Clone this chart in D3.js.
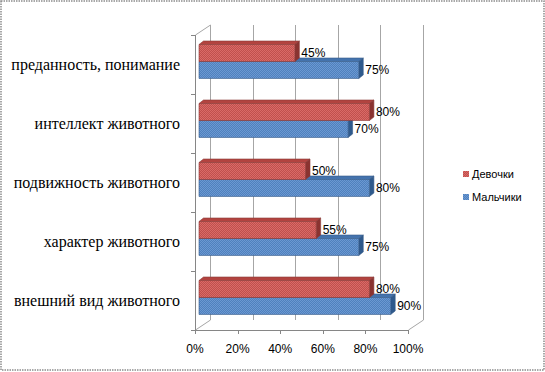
<!DOCTYPE html>
<html>
<head>
<meta charset="utf-8">
<script src="https://cdn.jsdelivr.net/npm/d3@7"></script>
<style>
  body { margin: 0; background: #fff; }
  svg { display: block; }
</style>
</head>
<body>
<svg id="chart" width="545" height="372"></svg>
<script>
const categories = ['преданность, понимание', 'интеллект животного', 'подвижность животного', 'характер животного', 'внешний вид животного']
const girls = [45, 80, 50, 55, 80]
const boys = [75, 70, 80, 75, 90]
const seriesNames = ['Девочки', 'Мальчики']
const xTicks = [0, 20, 40, 60, 80, 100]

const svg = d3.select('#chart')
const depth = { dx: 15, dy: -10 }
const front = { left: 195, right: 408, top: 35, bottom: 330 }
const sans = 'Liberation Sans'
const serif = 'Liberation Serif'

const xScale = d3.scaleLinear().domain([0, 100]).range([front.left, front.right])
const yScale = d3.scaleBand().domain(categories).range([front.top, front.bottom]).paddingInner(0.424).paddingOuter(0.212)
const sub = d3.scaleBand().domain(seriesNames).range([0, yScale.bandwidth()])

const colors = {
  'Девочки': { base: '#c0504d', light: '#d96a67', side: '#8a3330', top: '#b2433f', stroke: '#8c3a37' },
  'Мальчики': { base: '#4f81bd', light: '#6b98d2', side: '#2f5a8c', top: '#4473ad', stroke: '#385d8a' }
}

// dithered fill like the original
const defs = svg.append('defs')
Object.entries(colors).forEach(([name, c], i) => {
  const p = defs.append('pattern').attr('id', 'pat' + i)
    .attr('width', 2).attr('height', 2).attr('patternUnits', 'userSpaceOnUse')
  p.append('rect').attr('width', 2).attr('height', 2).attr('fill', c.base)
  p.append('rect').attr('width', 1).attr('height', 1).attr('fill', c.light)
  p.append('rect').attr('x', 1).attr('y', 1).attr('width', 1).attr('height', 1).attr('fill', c.light)
})

// outer border
svg.append('rect').attr('x', 1).attr('y', 1).attr('width', 543).attr('height', 369)
  .attr('fill', 'none').attr('stroke', '#8c8c8c').attr('stroke-width', 1.5).attr('stroke-dasharray', '1.5,1')

// back wall gridlines
const grid = svg.append('g').attr('stroke', '#a6a6a6').attr('stroke-width', 1)
xTicks.forEach(t => {
  const x = Math.round(xScale(t) + depth.dx) + 0.5
  grid.append('line').attr('x1', x).attr('x2', x).attr('y1', front.top + depth.dy).attr('y2', front.bottom + depth.dy)
})
// wall edges
grid.append('line').attr('x1', front.left + 0.5).attr('y1', front.top)
  .attr('x2', front.left + depth.dx + 0.5).attr('y2', front.top + depth.dy)
grid.append('line').attr('x1', front.left + 0.5).attr('y1', front.bottom)
  .attr('x2', front.left + depth.dx + 0.5).attr('y2', front.bottom + depth.dy)
grid.append('line').attr('x1', front.right + 0.5).attr('y1', front.bottom)
  .attr('x2', front.right + depth.dx + 0.5).attr('y2', front.bottom + depth.dy)

// axes
const axisG = svg.append('g').attr('stroke', '#868686').attr('stroke-width', 1)
axisG.append('line').attr('x1', front.left + 0.5).attr('x2', front.left + 0.5).attr('y1', front.top).attr('y2', front.bottom + 0.5)
axisG.append('line').attr('x1', front.left).attr('x2', front.right + 0.5).attr('y1', front.bottom + 0.5).attr('y2', front.bottom + 0.5)
const bounds = categories.map(c => yScale(c) - yScale.step() * yScale.paddingOuter()).concat([front.bottom])
bounds.forEach(y => {
  axisG.append('line').attr('x1', front.left - 4).attr('x2', front.left + 0.5)
    .attr('y1', Math.round(y) + 0.5).attr('y2', Math.round(y) + 0.5)
})
xTicks.forEach(t => {
  const x = Math.round(xScale(t)) + 0.5
  axisG.append('line').attr('x1', x).attr('x2', x).attr('y1', front.bottom).attr('y2', front.bottom + 4)
})

svg.append('g').selectAll('text').data(xTicks).join('text')
  .attr('font-family', sans).attr('font-size', 12).attr('fill', '#000')
  .attr('x', d => xScale(d)).attr('y', front.bottom + 23)
  .attr('text-anchor', 'middle')
  .text(d => d + '%')

svg.append('g').selectAll('text').data(categories).join('text')
  .attr('font-family', serif).attr('font-size', 16).attr('fill', '#000')
  .attr('x', 180).attr('y', d => yScale(d) + yScale.bandwidth() / 2 + 5)
  .attr('text-anchor', 'end')
  .text(d => d)

// bars: front face pushed a bit into the depth
const b0 = { dx: 4, dy: -3 }
const bd = { dx: 4.5, dy: -3.5 }
const rows = []
categories.forEach((c, i) => {
  rows.push({ cat: c, name: 'Мальчики', v: boys[i] })
  rows.push({ cat: c, name: 'Девочки', v: girls[i] })
})

const bars = svg.append('g')
rows.forEach(r => {
  const c = colors[r.name]
  const pat = 'url(#pat' + seriesNames.indexOf(r.name) + ')'
  const x0 = xScale(0) + b0.dx
  const x1 = xScale(r.v) + b0.dx
  const y0 = yScale(r.cat) + sub(r.name) + b0.dy
  const h = sub.bandwidth()
  const g = bars.append('g').attr('stroke', c.stroke).attr('stroke-width', 0.6).attr('stroke-linejoin', 'round')
  // top face
  g.append('path').attr('fill', c.top)
    .attr('d', `M${x0},${y0}L${x1},${y0}L${x1 + bd.dx},${y0 + bd.dy}L${x0 + bd.dx},${y0 + bd.dy}Z`)
  // side face
  g.append('path').attr('fill', c.side)
    .attr('d', `M${x1},${y0}L${x1 + bd.dx},${y0 + bd.dy}L${x1 + bd.dx},${y0 + h + bd.dy}L${x1},${y0 + h}Z`)
  // front face
  g.append('rect').attr('x', x0).attr('y', y0).attr('width', x1 - x0).attr('height', h).attr('fill', pat)
  bars.append('text')
    .attr('font-family', sans).attr('font-size', 12).attr('fill', '#000')
    .attr('x', x1 + bd.dx + 2).attr('y', y0 + h / 2 + 4)
    .text(r.v + '%')
})

// legend
const legend = svg.append('g')
seriesNames.forEach((n, i) => {
  const y = 174 + i * 23
  legend.append('rect').attr('x', 463).attr('y', y - 3).attr('width', 6).attr('height', 6)
    .attr('fill', 'url(#pat' + i + ')')
  legend.append('text').attr('x', 472).attr('y', y + 4)
    .attr('font-family', sans).attr('font-size', 11).attr('fill', '#000')
    .text(n)
})
</script>
</body>
</html>
